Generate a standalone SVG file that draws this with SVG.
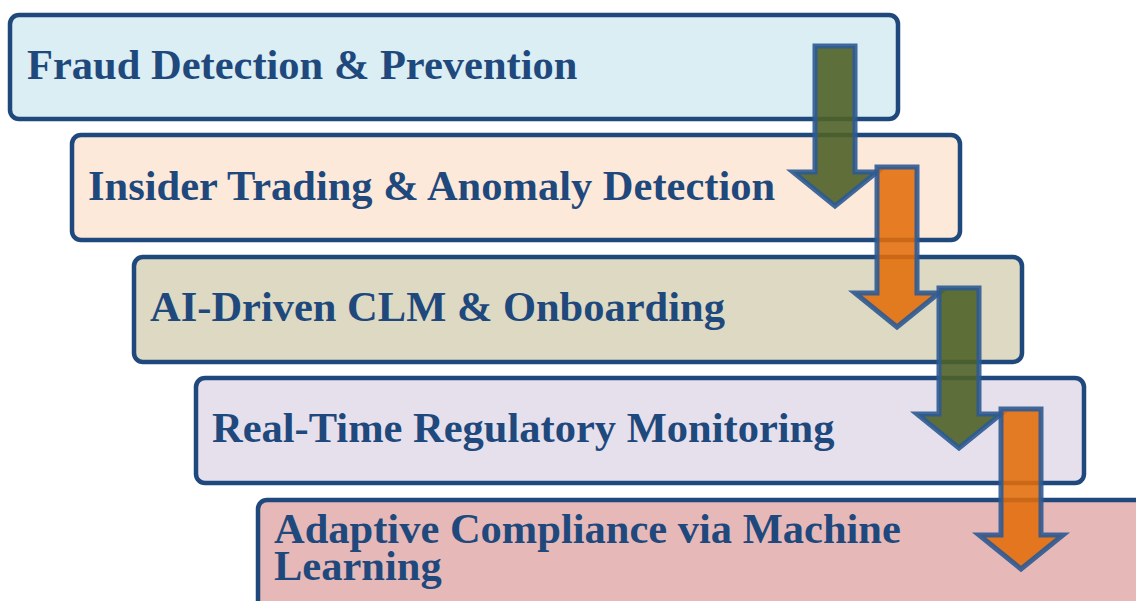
<svg xmlns="http://www.w3.org/2000/svg" width="1136" height="601" viewBox="0 0 1136 601">
<style>
.box{stroke:#1F497D;stroke-width:4.5}
.t{font-family:"Liberation Serif","Times New Roman",serif;font-weight:bold;font-size:42.5px;fill:#1F497D}
.arr{stroke:#2C5A94;stroke-width:5;stroke-opacity:0.9;stroke-linejoin:miter}
.g{fill:#4F6228;fill-opacity:0.9}
.o{fill:#E36C09;fill-opacity:0.88}
</style>
<defs>
<path id="arrow" d="M-20,0 H20 V126 H42 L0,160 L-42,126 H-20 Z"/>
</defs>
<rect width="1136" height="601" fill="#fff"/>
<g id="node1"><rect class="box" x="10" y="15" width="888" height="104" rx="9" fill="#DAEEF3"/><text class="t" x="27" y="79">Fraud Detection &amp; Prevention</text></g>
<g id="node2"><rect class="box" x="72" y="135" width="888" height="105" rx="9" fill="#FDE9D9"/><text class="t" x="88" y="200">Insider Trading &amp; Anomaly Detection</text></g>
<g id="node3"><rect class="box" x="134" y="257" width="888" height="105" rx="9" fill="#DDD9C3"/><text class="t" x="150" y="321">AI-Driven CLM &amp; Onboarding</text></g>
<g id="node4"><rect class="box" x="196" y="378" width="888" height="105" rx="9" fill="#E5E0EC"/><text class="t" x="212" y="442">Real-Time Regulatory Monitoring</text></g>
<g id="node5"><rect class="box" x="258" y="500" width="888" height="110" rx="9" fill="#E6B9B8"/><text class="t" x="274" y="543">Adaptive Compliance via Machine</text><text class="t" x="274" y="580">Learning</text></g>
<g id="connectors">
<use href="#arrow" class="arr g" transform="translate(835,46)"/>
<use href="#arrow" class="arr o" transform="translate(897,167)"/>
<use href="#arrow" class="arr g" transform="translate(959,288)"/>
<use href="#arrow" class="arr o" transform="translate(1021,409)"/>
</g>
</svg>
